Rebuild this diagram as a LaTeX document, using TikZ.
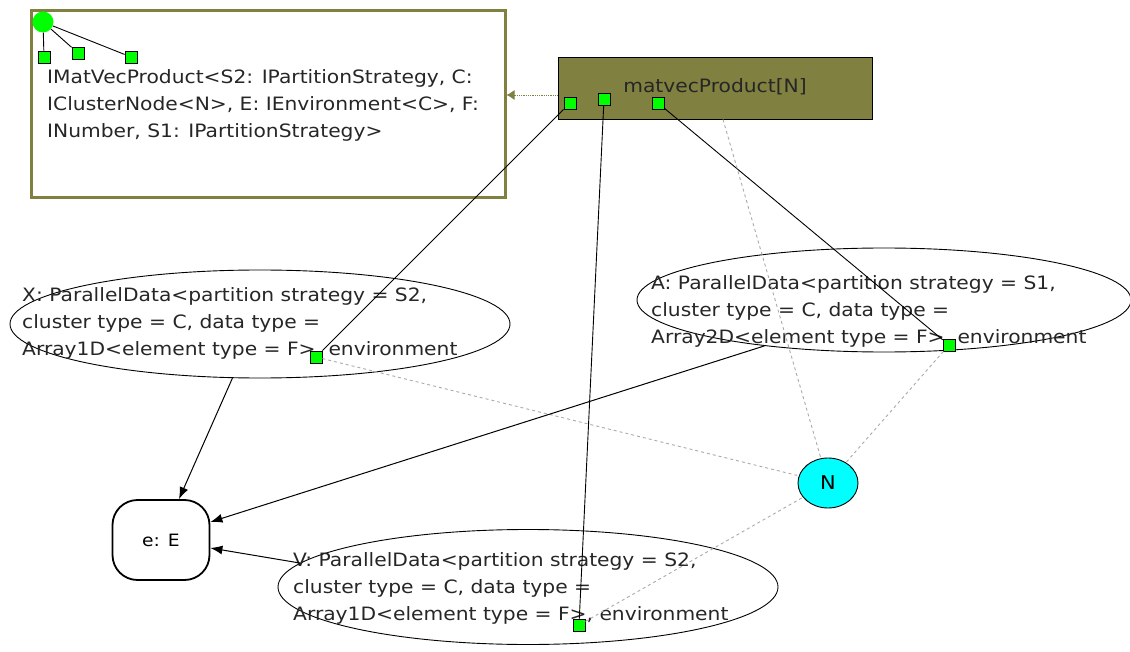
\documentclass[tikz,border=0pt]{standalone}
\usepackage{fontspec}
\setmainfont{DejaVu Sans}[FakeStretch=1.1]
\usepackage{tikz}
\usetikzlibrary{positioning, shapes.geometric, arrows.meta}

\definecolor{olivebox}{RGB}{128,128,64}
\definecolor{portgreen}{RGB}{0,255,0}
\definecolor{ncyan}{RGB}{0,255,255}
\definecolor{linkgray}{RGB}{170,170,170}

\tikzset{
  port/.style={draw=black, fill=portgreen, minimum size=12pt, inner sep=0pt, line width=0.8pt},
  databox/.style={draw=black, ellipse, line width=0.9pt},
  txt/.style={font=\fontsize{18.4}{27}\selectfont, align=left, inner sep=0pt, text=black!85},
  link/.style={draw=black, line width=0.9pt},
  weak/.style={draw=linkgray, dashed, line width=0.9pt},
  flow/.style={draw=black, line width=1pt, -{Latex[length=12pt, width=9pt]}}
}

\begin{document}
\begin{tikzpicture}[x=1pt, y=-1pt]
  \useasboundingbox (0,0) rectangle (1130,652);

  % interface (top-left)
  \node (iface) [draw=olivebox, line width=3pt, minimum width=474pt, minimum height=187pt] at (268,104.5) {};
  \node (ifaceroot) [circle, fill=portgreen, minimum size=21pt, inner sep=0pt] at (43,22) {};
  \node (ip1) [port] at (44,57) {};
  \node (ip2) [port] at (78,53) {};
  \node (ip3) [port] at (131,57) {};
  \draw[link] (ifaceroot) -- (ip1);
  \draw[link] (ifaceroot) -- (ip2);
  \draw[link] (ifaceroot) -- (ip3);
  \node (ifacetext) [txt, anchor=west] at (47,105) {IMatVecProduct<S2: IPartitionStrategy, C:\\IClusterNode<N>, E: IEnvironment<C>, F:\\INumber, S1: IPartitionStrategy>};

  % component
  \node (mv) [draw=black, line width=0.9pt, fill=olivebox, minimum width=314pt, minimum height=62pt] at (715,88) {};
  \node (mvtext) [txt] at (715,87) {matvecProduct[N]};
  \node (mp1) [port] at (570,103) {};
  \node (mp2) [port] at (604,99) {};
  \node (mp3) [port] at (658,103) {};
  \draw[olivebox, densely dotted, thick, -{Latex[length=8pt, width=10pt]}] ([yshift=-7pt]mv.west) -- ([yshift=-7pt]mv.west -| iface.east);

  % data nodes
  \node (X) [databox, minimum width=500pt, minimum height=108pt] at (260,324) {};
  \node (Xtext) [txt, anchor=west] at (22,323) {X: ParallelData<partition strategy = S2,\\cluster type = C, data type =\\Array1D<element type = F>, environment};
  \node (xp) [port] at (316,357) {};

  \node (A) [databox, minimum width=494pt, minimum height=104pt] at (884,300) {};
  \node (Atext) [txt, anchor=west] at (651,311) {A: ParallelData<partition strategy = S1,\\cluster type = C, data type =\\Array2D<element type = F>, environment};
  \node (ap) [port] at (949,345) {};

  \node (V) [databox, minimum width=500pt, minimum height=115pt] at (528,587) {};
  \node (Vtext) [txt, anchor=west] at (293,588) {V: ParallelData<partition strategy = S2,\\cluster type = C, data type =\\Array1D<element type = F>, environment};
  \node (vp) [port] at (579,625) {};

  \node (N) [ellipse, draw=black, line width=0.9pt, fill=ncyan, minimum width=60pt, minimum height=50pt, inner sep=0pt, font=\fontsize{19}{22}\selectfont] at (828,483) {N};

  \node (eE) [draw=black, line width=1.8pt, rounded corners=25pt, minimum width=97pt, minimum height=80pt, font=\fontsize{17}{20}\selectfont] at (161,540) {e: E};

  % port links
  \draw[link] (mp1) -- (xp);
  \draw[link] (mp2) -- (vp);
  \draw[link] (mp3) -- (ap);

  % links to N
  \draw[weak] ([xshift=8pt]mv.south) -- (N);
  \draw[weak] (xp) -- (N);
  \draw[weak] (ap) -- (N);
  \draw[weak] (vp) -- (N);

  % environment arrows
  \draw[flow] (X.243) -- ([xshift=18pt]eE.north);
  \draw[flow] (A.201) -- ([yshift=18pt]eE.east);
  \draw[flow] (V.174) -- ([yshift=-8pt]eE.east);
\end{tikzpicture}
\end{document}
